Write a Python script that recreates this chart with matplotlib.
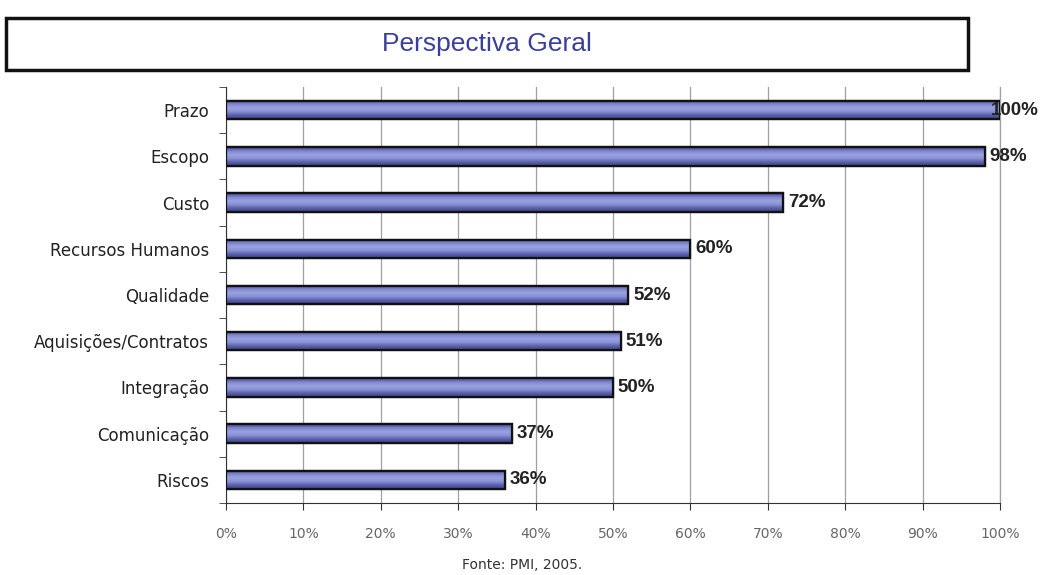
import numpy as np
import matplotlib
matplotlib.use("Agg")
import matplotlib.pyplot as plt
from matplotlib.patches import Rectangle
from matplotlib.colors import LinearSegmentedColormap

categories = ["Prazo", "Escopo", "Custo", "Recursos Humanos", "Qualidade",
              "Aquisições/Contratos", "Integração", "Comunicação", "Riscos"]
values = [100, 98, 72, 60, 52, 51, 50, 37, 36]
value_labels = ["100%", "98%", "72%", "60%", "52%", "51%", "50%", "37%", "36%"]
xticks = list(range(0, 101, 10))
xtick_labels = [f"{t}%" for t in xticks]
title = "Perspectiva Geral"
source = "Fonte: PMI, 2005."

W, H = 1041, 575
fig = plt.figure(figsize=(W / 100, H / 100), dpi=100)
fig.patch.set_facecolor("white")

# title box
fig.patches.append(Rectangle((6 / W, 1 - 70 / H), (968 - 6) / W, (70 - 18) / H,
                             transform=fig.transFigure, fill=False,
                             edgecolor="#111111", linewidth=2.5))
fig.text(487 / W, 1 - 44 / H, title, ha="center", va="center",
         fontsize=19, color="#3a3f9c", family="Liberation Sans")

ax = fig.add_axes([226 / W, 1 - 503 / H, (1000 - 226) / W, (503 - 87) / H])
n = len(categories)
ypos = np.arange(n)
ax.set_xlim(0, 100)
ax.set_ylim(n - 0.5, -0.5)

ax.set_xticks(xticks)
ax.set_xticklabels(xtick_labels, color="#666666", fontsize=10, family="DejaVu Sans")
ax.set_yticks(ypos)
ax.set_yticklabels(categories, fontsize=12, family="DejaVu Sans", color="#222222")
ax.tick_params(axis="y", length=0, pad=12)
ax.set_yticks(np.arange(n + 1) - 0.5, minor=True)
ax.tick_params(axis="y", which="minor", length=5, color="#333333", direction="out")
ax.tick_params(axis="x", length=5, color="#333333", pad=12)
ax.grid(axis="x", color="#a0a0a0", linewidth=0.9)
ax.axvline(100, color="#a0a0a0", linewidth=0.9, clip_on=False, zorder=0.5)
ax.set_axisbelow(True)
for s in ["top", "right"]:
    ax.spines[s].set_visible(False)
ax.spines["left"].set_color("#333333")
ax.spines["bottom"].set_color("#333333")

cmap = LinearSegmentedColormap.from_list(
    "barg", ["#3a3f8c", "#7e86cc", "#9aa2e0", "#8a92d6", "#5a61a8", "#3a3f8c"])
grad = np.linspace(0, 1, 64).reshape(-1, 1)
bh = 0.4
bars = ax.barh(ypos, values, height=bh, color="#8088d0",
               edgecolor="#111111", linewidth=1.6, zorder=3)
for b in bars:
    x0, y0 = b.get_x(), b.get_y()
    im = ax.imshow(grad, aspect="auto", cmap=cmap,
                   extent=(x0, x0 + b.get_width(), y0 + b.get_height(), y0),
                   zorder=3.5)
    im.set_clip_path(b)
    ax.add_patch(Rectangle((x0, y0), b.get_width(), b.get_height(), fill=False,
                           edgecolor="#111111", linewidth=1.6, zorder=4))

for y, v, lab in zip(ypos, values, value_labels):
    ax.text(v + 0.6 if v < 100 else v - 1.2, y, lab, va="center", ha="left",
            fontsize=13.5, fontweight="bold", color="#222222",
            family="Liberation Sans", zorder=5)

fig.text(522 / W, 1 - 565 / H, source, ha="center", va="center",
         fontsize=10, color="#333333", family="DejaVu Sans")

fig.savefig("out.png", dpi=100)
